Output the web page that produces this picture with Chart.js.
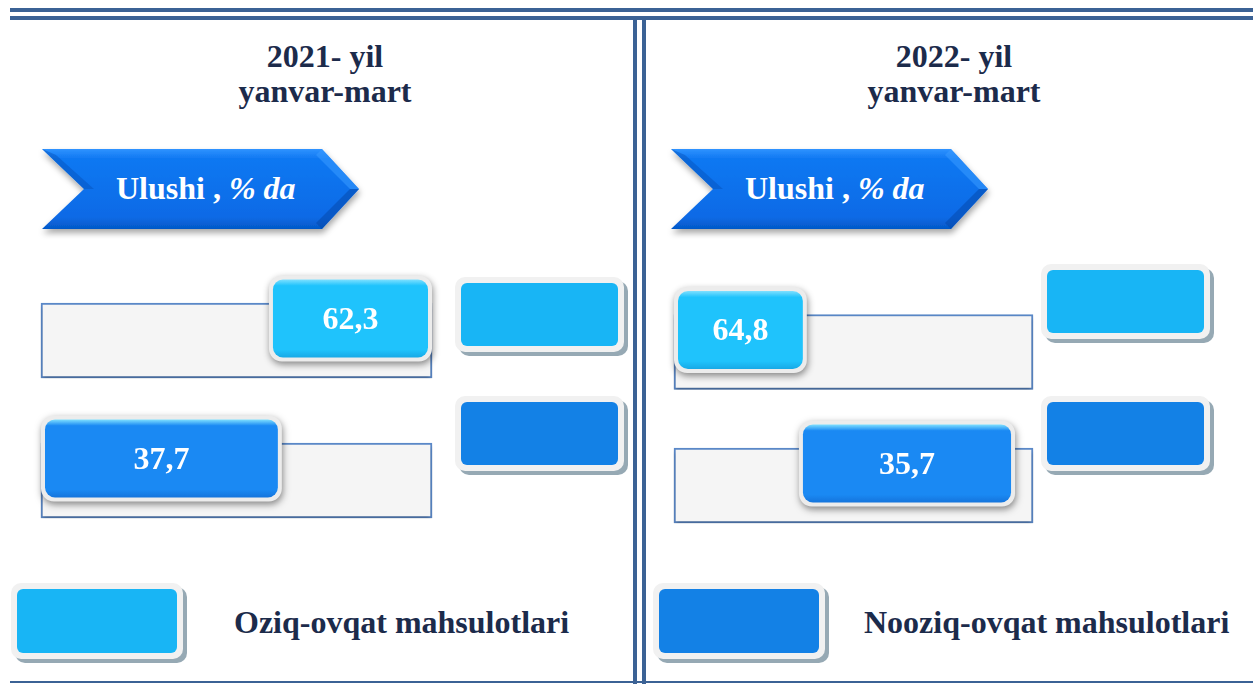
<!DOCTYPE html>
<html>
<head>
<meta charset="utf-8">
<script src="https://cdn.jsdelivr.net/npm/chart.js@4.4.1/dist/chart.umd.min.js"></script>
<style>
  html, body { margin: 0; padding: 0; background: #fff; }
  #page { position: relative; width: 1253px; height: 684px; overflow: hidden;
          font-family: "Liberation Serif", "Times New Roman", serif; }
  .ln { position: absolute; background: #3b6295; }
  .title { position: absolute; width: 400px; text-align: center; font-weight: bold;
           font-size: 32px; line-height: 35px; color: #1c2b4b; }
  .banner { position: absolute; width: 330px; height: 90px; }
  .banner svg { position: absolute; left: 0; top: 0; overflow: visible; }
  .banner span { position: absolute; left: 74px; top: 23px; font-size: 32px; line-height: 32px;
                 font-weight: bold; color: #fff; white-space: nowrap; }
  .sw { position: absolute; width: 169px; height: 75px; background: #f1f1f1; border-radius: 10px;
        box-shadow: 4px 4px 0 #96a9b4; }
  .sw i { position: absolute; left: 6px; top: 6px; right: 6px; bottom: 6px; border-radius: 6px; }
  .leg { position: absolute; top: 606px; font-weight: bold; font-size: 32px; line-height: 32px;
         color: #1c2b4b; white-space: nowrap; }
  canvas { position: absolute; }
</style>
</head>
<body>
<div id="page">
  <div class="ln" style="left:10px;top:8px;width:1243px;height:4px"></div>
  <div class="ln" style="left:10px;top:16px;width:1243px;height:4px"></div>
  <div class="ln" style="left:633px;top:16px;width:4px;height:668px"></div>
  <div class="ln" style="left:642px;top:16px;width:4px;height:668px"></div>
  <div class="ln" style="left:10px;top:681px;width:1243px;height:2px"></div>

  <div class="title" id="t0" style="left:125px;top:39px"></div>
  <div class="title" id="t1" style="left:754px;top:39px"></div>

  <div class="banner" style="left:42px;top:149px"></div>
  <div class="banner" style="left:671px;top:149px"></div>

  <canvas id="c0" width="640" height="310" style="left:0;top:250px"></canvas>
  <canvas id="c1" width="608" height="310" style="left:645px;top:250px"></canvas>

  <div class="sw" style="left:455px;top:277px"><i class="k0"></i></div>
  <div class="sw" style="left:455px;top:396px"><i class="k1"></i></div>
  <div class="sw" style="left:1041px;top:264px"><i class="k0"></i></div>
  <div class="sw" style="left:1041px;top:396px"><i class="k1"></i></div>

  <div class="sw" style="left:11px;top:583px;width:172px;height:76px"><i class="k0"></i></div>
  <div class="leg" id="l0" style="left:234px"></div>
  <div class="sw" style="left:653px;top:583px;width:172px;height:76px"><i class="k1"></i></div>
  <div class="leg" id="l1" style="left:864px"></div>
</div>

<script>
const CATEGORIES = ['Oziq-ovqat mahsulotlari', 'Nooziq-ovqat mahsulotlari'];
const PERIODS = ['2021- yil', '2022- yil'];
const SUBTITLE = 'yanvar-mart';
const SHARE_2021 = [62.3, 37.7];
const SHARE_2022 = [64.8, 35.7];
const TOTAL = [100, 100];
const BANNER = ['Ulushi , ', '% da'];

const KEY_COLORS = ['#18b5f5', '#1381e6'];
const BOX_COLORS = ['#1fc3fc', '#1a89f3'];

// static text + swatches
PERIODS.forEach((p, i) => {
  document.getElementById('t' + i).innerHTML = p + '<br>' + SUBTITLE;
});
CATEGORIES.forEach((c, i) => {
  document.getElementById('l' + i).textContent = c;
  document.querySelectorAll('.k' + i).forEach(el => el.style.background = KEY_COLORS[i]);
});
document.querySelectorAll('.banner').forEach((b, i) => {
  b.innerHTML =
    '<svg width="330" height="90">' +
    '<defs><linearGradient id="bg' + i + '" x1="0" y1="0" x2="0" y2="1">' +
    '<stop offset="0" stop-color="#2f93ff"/><stop offset="0.12" stop-color="#0f78f2"/>' +
    '<stop offset="0.85" stop-color="#0a6ae6"/><stop offset="1" stop-color="#0558c8"/></linearGradient>' +
    '<filter id="sh' + i + '" x="-10%" y="-10%" width="120%" height="140%">' +
    '<feDropShadow dx="1" dy="4" stdDeviation="3" flood-color="#000" flood-opacity="0.35"/></filter></defs>' +
    '<polygon points="0,0 280,0 317,40 280,80 0,80 42,40" fill="url(#bg' + i + ')" filter="url(#sh' + i + ')"/>' +
    '<polygon points="280,0 317,40 308,40 274,6" fill="#3a9bff" opacity="0.55"/>' +
    '<polygon points="308,40 317,40 280,80 274,74" fill="#0446a8" opacity="0.5"/>' +
    '<polygon points="0,0 42,40 52,40 14,6" fill="#0450b8" opacity="0.45"/>' +
    '</svg>' +
    '<span>' + BANNER[0] + '<i>' + BANNER[1] + '</i></span>';
});

// rounded value labels sitting over the tracks
const valueBoxes = {
  id: 'valueBoxes',
  beforeDatasetDraw(chart) {
    const ctx = chart.ctx;
    ctx.save();
    ctx.shadowColor = 'rgba(0,0,0,0.28)';
    ctx.shadowBlur = 4;
    ctx.shadowOffsetY = 3;
  },
  afterDatasetDraw(chart) { chart.ctx.restore(); },
  afterDatasetsDraw(chart, args, opts) {
    const ctx = chart.ctx;
    const xs = chart.scales.x;
    const meta = chart.getDatasetMeta(0);
    meta.data.forEach((bar, i) => {
      const x0 = xs.getPixelForValue(opts.spans[i][0]);
      const x1 = xs.getPixelForValue(opts.spans[i][1]);
      const h = 86;
      const yc = bar.y + opts.dy;
      const y0 = yc - h / 2;
      ctx.save();
      ctx.shadowColor = 'rgba(0,0,0,0.45)';
      ctx.shadowBlur = 7;
      ctx.shadowOffsetX = 1;
      ctx.shadowOffsetY = 3;
      ctx.beginPath();
      ctx.roundRect(x0, y0, x1 - x0, h, 13);
      ctx.fillStyle = '#ececec';
      ctx.fill();
      ctx.restore();

      const g = ctx.createLinearGradient(0, y0 + 4, 0, y0 + h - 4);
      g.addColorStop(0, '#7fe0ff');
      g.addColorStop(0.08, BOX_COLORS[i]);
      g.addColorStop(0.9, BOX_COLORS[i]);
      g.addColorStop(1, i === 0 ? '#17a9e6' : '#1474dc');
      ctx.beginPath();
      ctx.roundRect(x0 + 4, y0 + 4, x1 - x0 - 8, h - 8, 10);
      ctx.fillStyle = g;
      ctx.fill();

      ctx.fillStyle = '#fff';
      ctx.font = 'bold 32px "Liberation Serif", "Times New Roman", serif';
      ctx.textAlign = 'center';
      ctx.textBaseline = 'middle';
      ctx.fillText(String(opts.values[i]).replace('.', ','), (x0 + x1) / 2, yc + 2);
    });
  }
};

function panel(id, values, spans, pad, dy) {
  return new Chart(document.getElementById(id), {
    type: 'bar',
    data: {
      labels: CATEGORIES,
      datasets: [{
        data: TOTAL,
        backgroundColor: '#f5f5f5',
        borderColor: '#5a88c8',
        borderWidth: 2,
        borderSkipped: false,
        barThickness: 75,
        clip: false,
      }],
    },
    options: {
      indexAxis: 'y',
      responsive: false,
      animation: false,
      layout: { padding: pad },
      plugins: {
        legend: { display: false },
        tooltip: { enabled: false },
        valueBoxes: { values, spans, dy },
      },
      scales: {
        x: { display: false, min: 0, max: 100 },
        y: { display: false },
      },
    },
    plugins: [valueBoxes],
  });
}

panel('c0', SHARE_2021, [[58.3, 100], [0, 61.6]],
  { left: 41, right: 208, top: 20.5, bottom: 9.5 }, -22);
panel('c1', SHARE_2022, [[0, 37], [34.8, 95]],
  { left: 29, right: 220, top: 35.25, bottom: 7.75 }, -22);
</script>
</body>
</html>
